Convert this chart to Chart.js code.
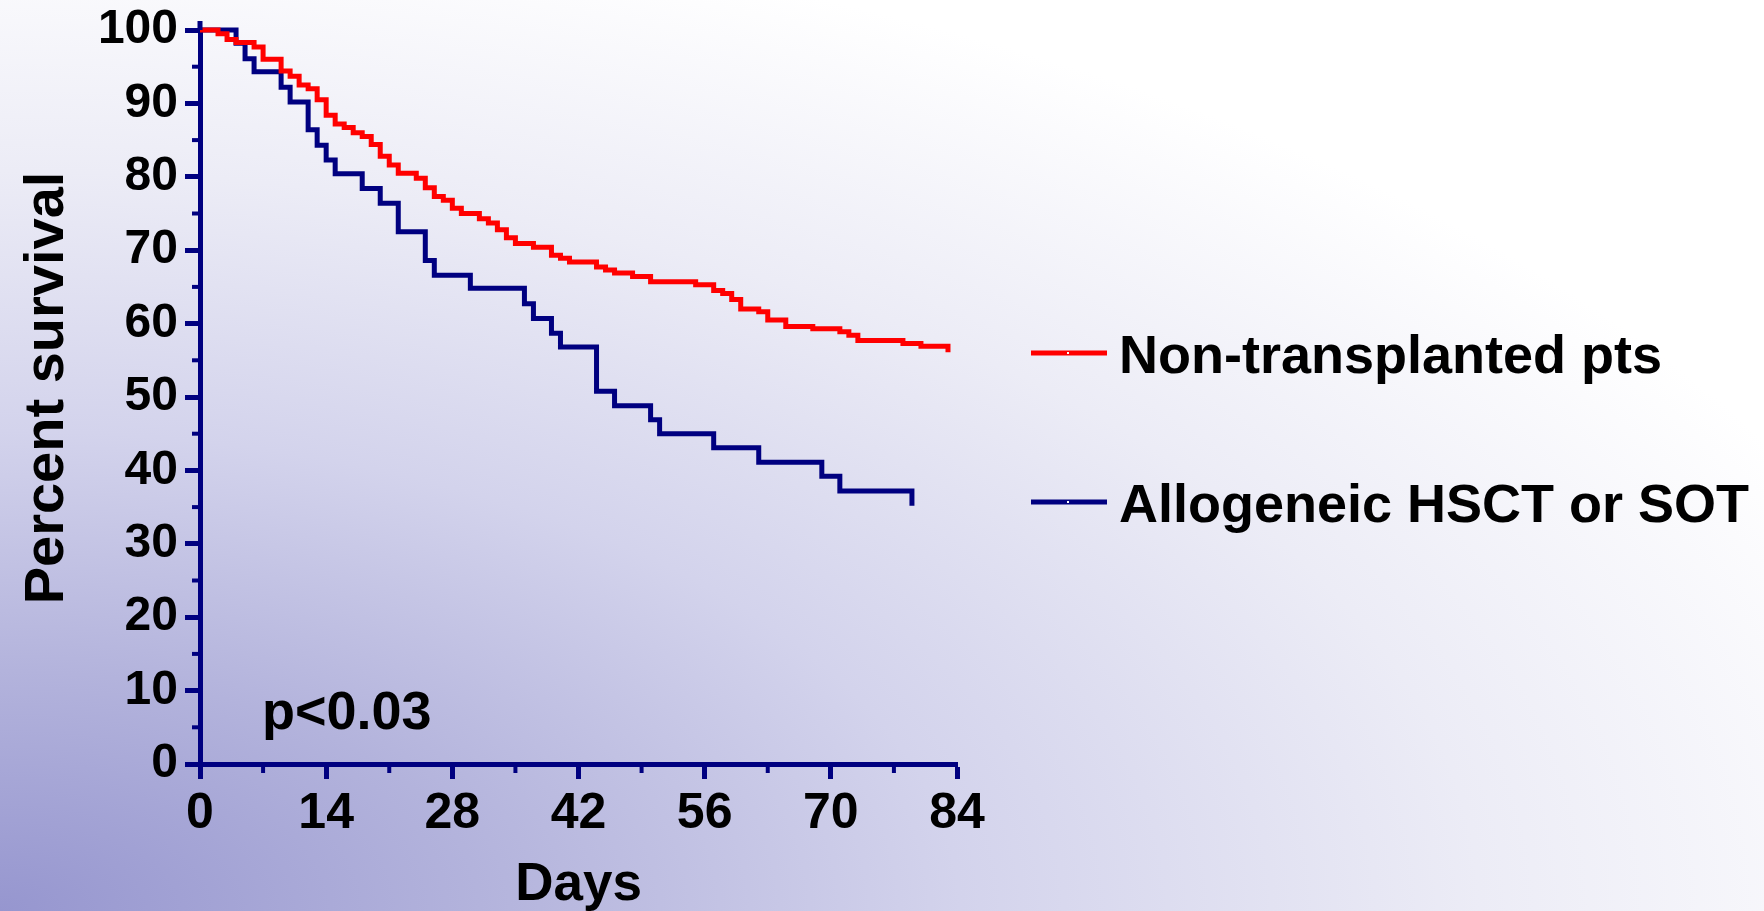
<!DOCTYPE html>
<html>
<head>
<meta charset="utf-8">
<title>Percent survival</title>
<script src="https://cdn.jsdelivr.net/npm/chart.js@4.4.1/dist/chart.umd.min.js"></script>
<style>
  html, body { margin: 0; padding: 0; }
  body {
    width: 1764px;
    height: 911px;
    overflow: hidden;
    background: radial-gradient(ellipse 2000px 1000px at 0% 100%, #9696cf 0%, #b3b3dc 24%, #d3d3ec 48%, #ececf6 74%, #ffffff 100%);
  }
  #chart { display: block; }
</style>
</head>
<body>
<canvas id="chart" width="1764" height="911"></canvas>
<script>
// Kaplan-Meier steps (day of event, survival after it)
const nonTxDays = [0, 2, 3, 4, 6, 7, 9, 10, 11, 12, 13, 14, 15, 16, 17, 18, 19, 20, 21, 22,
  24, 25, 26, 27, 28, 29, 31, 32, 33, 34, 35, 37, 39, 40, 41, 44, 45, 46, 48, 50,
  55, 57, 58, 59, 60, 62, 63, 65, 68, 71, 72, 73, 78, 80, 83];
const nonTxSurvival = [100, 99.5, 98.7, 98.3, 97.7, 96.0, 94.4, 93.7, 92.5, 92.0, 90.5, 88.4, 87.2, 86.7, 86.0, 85.5, 84.4, 82.8, 81.6, 80.5,
  79.8, 78.5, 77.3, 76.8, 75.7, 75.0, 74.3, 73.7, 72.8, 71.7, 70.9, 70.4, 69.3, 68.9, 68.4, 67.7, 67.3, 66.9, 66.4, 65.7,
  65.3, 64.5, 64.1, 63.3, 62.0, 61.6, 60.5, 59.6, 59.3, 58.9, 58.4, 57.7, 57.3, 56.9, 56.1];

const txDays = [0, 4, 5, 6, 9, 10, 12, 13, 14, 15, 18, 20, 22, 25, 26, 30, 36, 37, 39, 40,
  44, 46, 50, 51, 57, 62, 69, 71, 79];
const txSurvival = [100, 98.2, 96.1, 94.3, 92.2, 90.2, 86.4, 84.3, 82.3, 80.4, 78.4, 76.4, 72.5, 68.6, 66.6, 64.8, 62.7, 60.7, 58.7, 56.8,
  50.8, 48.8, 46.9, 45.0, 43.1, 41.1, 39.2, 37.2, 35.2];

const seriesLabels = ['Non-transplanted pts', 'Allogeneic HSCT or SOT'];

const xTickValues = [0, 14, 28, 42, 56, 70, 84];
const xMinorTicks = [7, 21, 35, 49, 63, 77];
const yTickValues = [0, 10, 20, 30, 40, 50, 60, 70, 80, 90, 100];
const yMinorTicks = [5, 15, 25, 35, 45, 55, 65, 75, 85, 95];

const navy = '#000080';
const red = '#ff0000';
const fontFamily = '"Liberation Sans", Arial, sans-serif';

function toPoints(xs, ys) {
  return xs.map((x, i) => ({ x: x, y: ys[i] }));
}

// minor ticks, axis titles, p value and legend
const decorations = {
  id: 'decorations',
  afterDraw(chart) {
    const ctx = chart.ctx;
    const xs = chart.scales.x;
    const ys = chart.scales.y;
    const area = chart.chartArea;

    ctx.save();
    ctx.strokeStyle = navy;
    ctx.lineWidth = 5;
    // axis runs a little past 100
    ctx.beginPath();
    ctx.moveTo(area.left, area.top);
    ctx.lineTo(area.left, area.top - 9);
    ctx.stroke();

    ctx.lineWidth = 4;
    yMinorTicks.forEach(v => {
      const y = ys.getPixelForValue(v);
      ctx.beginPath();
      ctx.moveTo(area.left - 8, y);
      ctx.lineTo(area.left, y);
      ctx.stroke();
    });
    xMinorTicks.forEach(v => {
      const x = xs.getPixelForValue(v);
      ctx.beginPath();
      ctx.moveTo(x, area.bottom);
      ctx.lineTo(x, area.bottom + 9);
      ctx.stroke();
    });

    ctx.fillStyle = '#000';
    ctx.textBaseline = 'alphabetic';

    // y title
    ctx.save();
    ctx.translate(63, 388);
    ctx.rotate(-Math.PI / 2);
    ctx.textAlign = 'center';
    ctx.font = 'bold 56px ' + fontFamily;
    ctx.fillText('Percent survival', 0, 0);
    ctx.restore();

    // x title
    ctx.textAlign = 'center';
    ctx.font = 'bold 53px ' + fontFamily;
    ctx.fillText('Days', (area.left + area.right) / 2, 900);

    // p value
    ctx.textAlign = 'left';
    ctx.font = 'bold 54px ' + fontFamily;
    ctx.fillText('p<0.03', 262, 729);

    // legend
    const legendY = [353, 502];
    chart.data.datasets.forEach((ds, i) => {
      const y = legendY[i];
      ctx.strokeStyle = ds.borderColor;
      ctx.lineWidth = 5;
      ctx.beginPath();
      ctx.moveTo(1031, y);
      ctx.lineTo(1107, y);
      ctx.stroke();
      ctx.fillStyle = '#fff';
      ctx.fillRect(1067, y - 1, 2, 2);
      ctx.fillStyle = '#000';
      ctx.font = 'bold 54px ' + fontFamily;
      ctx.fillText(ds.label, 1119, y + 20);
    });
    ctx.restore();
  }
};

new Chart(document.getElementById('chart'), {
  type: 'line',
  data: {
    datasets: [
      {
        label: seriesLabels[0],
        data: toPoints(nonTxDays, nonTxSurvival),
        borderColor: red,
        borderWidth: 5,
        stepped: 'before',
        pointRadius: 0,
        fill: false,
        clip: false
      },
      {
        label: seriesLabels[1],
        data: toPoints(txDays, txSurvival),
        borderColor: navy,
        borderWidth: 5,
        stepped: 'before',
        pointRadius: 0,
        fill: false,
        clip: false
      }
    ]
  },
  options: {
    responsive: false,
    animation: false,
    devicePixelRatio: 1,
    layout: { padding: { left: 80, top: 30, right: 807, bottom: 0 } },
    plugins: {
      legend: { display: false },
      tooltip: { enabled: false }
    },
    scales: {
      x: {
        type: 'linear',
        min: 0,
        max: 84,
        afterBuildTicks: s => { s.ticks = xTickValues.map(v => ({ value: v })); },
        afterFit: s => { s.height = 147; s.paddingLeft = 0; s.paddingRight = 0; },
        grid: { drawOnChartArea: false, drawTicks: true, tickLength: 15, tickWidth: 5, tickColor: navy },
        border: { color: navy, width: 5 },
        ticks: { font: { family: fontFamily, size: 50, weight: 'bold' }, color: '#000', padding: 5, maxRotation: 0, autoSkip: false }
      },
      y: {
        type: 'linear',
        min: 0,
        max: 100,
        afterBuildTicks: s => { s.ticks = yTickValues.map(v => ({ value: v })); },
        afterFit: s => { s.width = 120; s.paddingTop = 0; s.paddingBottom = 0; },
        grid: { drawOnChartArea: false, drawTicks: true, tickLength: 15, tickWidth: 5, tickColor: navy },
        border: { color: navy, width: 5 },
        ticks: { font: { family: fontFamily, size: 48, weight: 'bold' }, color: '#000', padding: 7, autoSkip: false }
      }
    }
  },
  plugins: [decorations]
});
</script>
</body>
</html>
